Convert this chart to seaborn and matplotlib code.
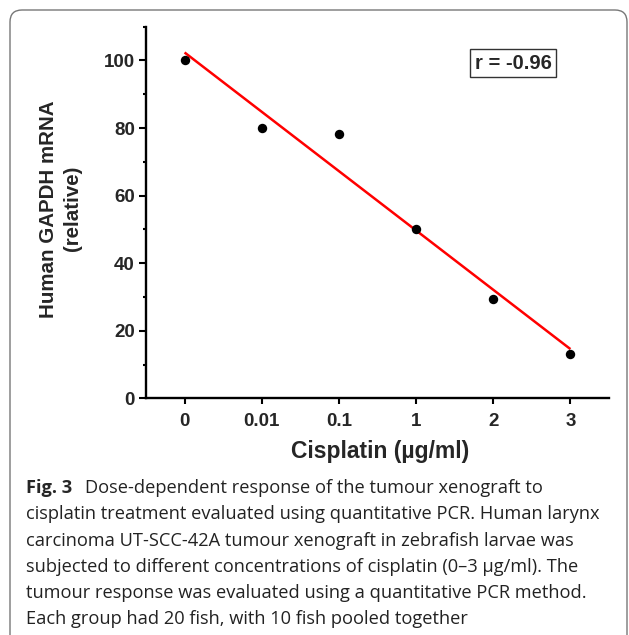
import numpy as np
import matplotlib
matplotlib.use('Agg')
import matplotlib.pyplot as plt
import matplotlib.patches as mpatches
from matplotlib.transforms import IdentityTransform
from matplotlib.ticker import MultipleLocator
import seaborn as sns

# data
doses = ['0', '0.01', '0.1', '1', '2', '3']
gapdh = [100, 80, 78.3, 50, 29.4, 13.1]
r_label = 'r = -0.96'

caption_bold = 'Fig. 3'
caption_lines = [
    'Dose-dependent response of the tumour xenograft to',
    'cisplatin treatment evaluated using quantitative PCR. Human larynx',
    'carcinoma UT-SCC-42A tumour xenograft in zebrafish larvae was',
    'subjected to different concentrations of cisplatin (0\u20133 \u00b5g/ml). The',
    'tumour response was evaluated using a quantitative PCR method.',
    'Each group had 20 fish, with 10 fish pooled together',
]

sns.set_style('ticks')
plt.rcParams['font.family'] = ['Liberation Sans', 'DejaVu Sans']

W, H = 629, 635
fig = plt.figure(figsize=(W / 100, H / 100), dpi=100)
ax = fig.add_axes([146 / W, 1 - 398.3 / H, 463 / W, 371.6 / H])

pos = np.arange(len(doses))
sns.regplot(x=pos, y=gapdh, ax=ax, scatter=False, ci=None, color='red',
            line_kws={'lw': 1.8, 'solid_capstyle': 'butt'})
sns.scatterplot(x=pos, y=gapdh, ax=ax, color='black', s=46, edgecolor='black',
                linewidth=0, zorder=3)

ax.set_xlim(-0.5, 5.5)
ax.set_ylim(0, 110)
ax.set_xticks(pos)
ax.set_xticklabels(doses)
ax.set_yticks([0, 20, 40, 60, 80, 100])
ax.yaxis.set_minor_locator(MultipleLocator(10))
sns.despine(ax=ax)
for s in ['left', 'bottom']:
    ax.spines[s].set_linewidth(1.7)
    ax.spines[s].set_color('black')
ax.tick_params(axis='y', which='major', length=5, width=1.5, pad=3, labelsize=13.5, color='black')
ax.tick_params(axis='y', which='minor', length=2.5, width=1.5, color='black')
ax.tick_params(axis='x', which='major', length=4.5, width=1.5, pad=6, labelsize=13.5, color='black')
for lab in ax.get_xticklabels() + ax.get_yticklabels():
    lab.set_fontweight('bold')

ax.set_xlabel('Cisplatin (\u00b5g/ml)', fontsize=16.5, fontweight='bold')
ax.xaxis.set_label_coords(0.505, -0.113)
ax.set_ylabel('Human GAPDH mRNA\n(relative)', fontsize=14.8, fontweight='bold', linespacing=1.35)
ax.yaxis.set_label_coords(-0.138, 0.51)

ax.text(4.26, 99.2, r_label, fontsize=14.5, fontweight='bold', ha='center', va='center',
        bbox=dict(boxstyle='square,pad=0.22', fc='white', ec='#333333', lw=1))

# rounded frame around the figure panel
frame = mpatches.FancyBboxPatch((10, -40), 617, H - 10 + 40,
                                boxstyle='round,pad=0,rounding_size=12',
                                fc='none', ec='#777777', lw=1.0,
                                transform=IdentityTransform())
fig.add_artist(frame)

# caption: fit font size to the width of the widest line
cap_font = 'Open Sans'
renderer = fig.canvas.get_renderer()
probe = fig.text(0, 0, caption_lines[1], fontsize=12, family=cap_font)
w = probe.get_window_extent(renderer).width
probe.remove()
cap_size = 12 * 572 / w

baselines = [492.7, 519, 545.5, 572, 598, 624]
fb = fig.text(26 / W, 1 - baselines[0] / H, caption_bold, fontsize=cap_size,
              family=cap_font, fontweight='bold', va='baseline')
x_after = fb.get_window_extent(renderer).x1 + 13
fig.text(x_after / W, 1 - baselines[0] / H, caption_lines[0], fontsize=cap_size,
         family=cap_font, va='baseline', color='#222222')
for line, b in zip(caption_lines[1:], baselines[1:]):
    fig.text(26 / W, 1 - b / H, line, fontsize=cap_size, family=cap_font,
             va='baseline', color='#222222')

fig.savefig('out.png', dpi=100)
plt.close(fig)
